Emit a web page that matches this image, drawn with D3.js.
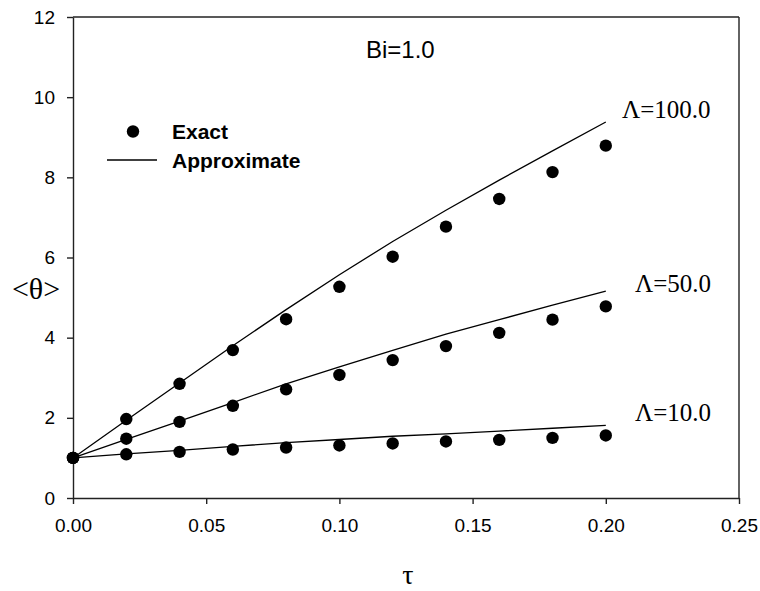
<!DOCTYPE html>
<html>
<head>
<meta charset="utf-8">
<script src="https://cdn.jsdelivr.net/npm/d3@7/dist/d3.min.js"></script>
<style>
  html, body { margin: 0; padding: 0; background: #fff; }
  svg { display: block; }
</style>
</head>
<body>
<svg id="chart" width="760" height="591"></svg>
<script>
// Dimensionless time grid
const tau = [0, 0.02, 0.04, 0.06, 0.08, 0.10, 0.12, 0.14, 0.16, 0.18, 0.20];

// Exact solution, mean temperature <θ>
const exact100 = [1.00, 1.97, 2.85, 3.69, 4.46, 5.27, 6.02, 6.77, 7.46, 8.13, 8.79];
const exact50  = [1.00, 1.48, 1.90, 2.30, 2.71, 3.07, 3.44, 3.79, 4.12, 4.45, 4.78];
const exact10  = [1.00, 1.09, 1.15, 1.21, 1.26, 1.31, 1.36, 1.41, 1.45, 1.50, 1.56];

// Approximate solution
const approx100 = [1.00, 1.94, 2.87, 3.80, 4.70, 5.57, 6.40, 7.18, 7.93, 8.66, 9.38];
const approx50  = [1.00, 1.46, 1.92, 2.38, 2.85, 3.27, 3.68, 4.09, 4.45, 4.81, 5.16];
const approx10  = [1.00, 1.10, 1.19, 1.29, 1.38, 1.46, 1.54, 1.60, 1.67, 1.74, 1.81];

const seriesLabels = ["Λ=100.0", "Λ=50.0", "Λ=10.0"];
const xTicks = [0, 0.05, 0.10, 0.15, 0.20, 0.25];
const yTicks = [0, 2, 4, 6, 8, 10, 12];

const series = [
  { label: seriesLabels[0], exact: exact100, approx: approx100 },
  { label: seriesLabels[1], exact: exact50,  approx: approx50 },
  { label: seriesLabels[2], exact: exact10,  approx: approx10 }
];

const margin = { left: 73, top: 17, right: 21, bottom: 93 };
const W = 760, H = 591;
const iw = W - margin.left - margin.right;
const ih = H - margin.top - margin.bottom;

const sans = "'Liberation Sans', Arial, sans-serif";
const serif = "'Liberation Serif', 'Times New Roman', serif";

const svg = d3.select("#chart");
const g = svg.append("g").attr("transform", `translate(${margin.left},${margin.top})`);

const x = d3.scaleLinear().domain([0, 0.25]).range([0, iw]);
const y = d3.scaleLinear().domain([0, 12]).range([ih, 0]);

// Axes
const axisColor = "#222";
const xAxis = g.append("g")
  .attr("transform", `translate(0,${ih})`)
  .call(d3.axisBottom(x).tickValues(xTicks).tickFormat(d3.format(".2f")).tickSize(6).tickPadding(15).tickSizeOuter(0));
const yAxis = g.append("g")
  .call(d3.axisLeft(y).tickValues(yTicks).tickFormat(d3.format("d")).tickSize(6).tickPadding(12).tickSizeOuter(0));

[xAxis, yAxis].forEach(a => {
  a.selectAll("path, line").attr("stroke", axisColor).attr("stroke-width", 1.4);
  a.selectAll("text").attr("font-family", sans).attr("font-size", 19).attr("fill", "#000");
});

// Frame: top and right edges
g.append("line").attr("x1", 0).attr("x2", iw).attr("y1", 0).attr("y2", 0)
  .attr("stroke", axisColor).attr("stroke-width", 1.4);
g.append("line").attr("x1", iw).attr("x2", iw).attr("y1", 0).attr("y2", ih)
  .attr("stroke", axisColor).attr("stroke-width", 1.4);

// Approximate curves
const line = d3.line().x((d, i) => x(tau[i])).y(d => y(d));
g.selectAll("path.approx").data(series).join("path")
  .attr("class", "approx")
  .attr("d", s => line(s.approx))
  .attr("fill", "none").attr("stroke", "#000").attr("stroke-width", 1.3);

// Exact points
series.forEach(s => {
  g.selectAll(null).data(s.exact).join("circle")
    .attr("cx", (d, i) => x(tau[i]))
    .attr("cy", d => y(d))
    .attr("r", 6.2)
    .attr("fill", "#000");
});

// Curve labels beside the last approximate value
const labelX = [622, 635, 635];
const labelDy = [-4, 0.5, -4];
series.forEach((s, k) => {
  g.append("text")
    .attr("x", labelX[k] - margin.left)
    .attr("y", y(s.approx[s.approx.length - 1]) + labelDy[k])
    .attr("font-family", serif).attr("font-size", 25)
    .attr("fill", "#000")
    .text(s.label);
});

// Biot number annotation
svg.append("text").attr("x", 366).attr("y", 58)
  .attr("font-family", sans).attr("font-size", 24).attr("fill", "#000")
  .text("Bi=1.0");

// Legend
svg.append("circle").attr("cx", 133).attr("cy", 131.5).attr("r", 6.2).attr("fill", "#000");
svg.append("text").attr("x", 172).attr("y", 138.5)
  .attr("font-family", sans).attr("font-size", 21).attr("font-weight", "bold").attr("fill", "#000")
  .text("Exact");
svg.append("line").attr("x1", 107).attr("x2", 157).attr("y1", 160).attr("y2", 160)
  .attr("stroke", "#000").attr("stroke-width", 1.3);
svg.append("text").attr("x", 172).attr("y", 167.5)
  .attr("font-family", sans).attr("font-size", 21).attr("font-weight", "bold").attr("fill", "#000")
  .text("Approximate");

// Axis titles
svg.append("text").attr("x", 36).attr("y", 299)
  .attr("text-anchor", "middle")
  .attr("font-family", serif).attr("font-size", 30).attr("fill", "#000")
  .text("<θ>");
svg.append("text").attr("x", 408).attr("y", 584)
  .attr("text-anchor", "middle")
  .attr("font-family", serif).attr("font-size", 28).attr("fill", "#000")
  .text("τ");
</script>
</body>
</html>
